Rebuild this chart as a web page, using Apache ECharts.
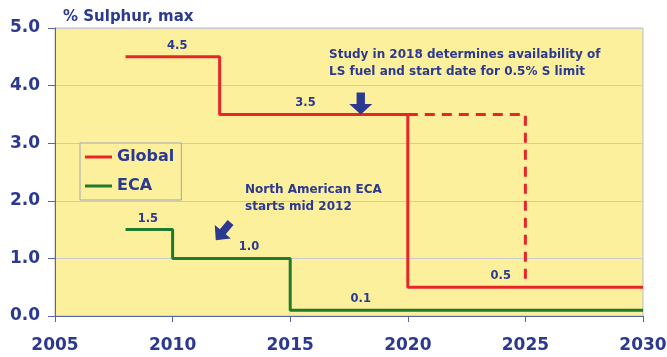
<!DOCTYPE html>
<html>
<head>
<meta charset="utf-8">
<script src="https://cdn.jsdelivr.net/npm/echarts@6/dist/echarts.min.js"></script>
<style>
html, body { margin: 0; padding: 0; background: #fff; }
#main { width: 667px; height: 357px; }
</style>
</head>
<body>
<div id="main"></div>
<script>
// data
var xTicks = [2005, 2010, 2015, 2020, 2025, 2030];
var globalSteps = [[2008, 4.5], [2012, 4.5], [2012, 3.5], [2020, 3.5], [2020, 0.5], [2030, 0.5]];
var globalStudy = [[2020, 3.5], [2025, 3.5], [2025, 0.58]];
var ecaSteps = [[2008, 1.5], [2010, 1.5], [2010, 1.0], [2015, 1.0], [2015, 0.1], [2030, 0.1]];
var globalLabels = [[2010.2, 4.5, '4.5'], [2015.65, 3.5, '3.5'], [2023.95, 0.5, '0.5']];
var ecaLabels = [[2008.95, 1.5, '1.5'], [2013.25, 1.0, '1.0'], [2018, 0.1, '0.1']];

var navy = '#2b3990';
var red = '#e8262a';
var green = '#1d7a2e';
var font = 'DejaVu Sans, Verdana, sans-serif';

var downArrow = 'path://M7,0 L15,0 L15,11 L22,11 L11,21 L0,11 L7,11 Z';

function valueMarks(list) {
    var out = [];
    for (var i = 0; i < list.length; i++) {
        out.push({
            coord : [list[i][0], list[i][1]],
            value : list[i][2]
        });
    }
    return out;
}

var markLabel = {
    show : true,
    position : 'top',
    distance : 5,
    color : navy,
    fontFamily : font,
    fontWeight : 'bold',
    fontSize : 11.5,
    formatter : '{c}'
};

var myChart = echarts.init(document.getElementById('main'));
var option = {
    animation : false,
    textStyle : { fontFamily : font },
    grid : {
        left : 55,
        right : 24,
        top : 28,
        bottom : 41,
        outerBoundsMode : 'none',
        show : true,
        backgroundColor : '#fcf09c',
        borderColor : '#b8bccb',
        borderWidth : 1
    },
    title : {
        text : '% Sulphur, max',
        left : 58,
        top : 5,
        textStyle : { color : navy, fontSize : 15, fontWeight : 'bold', fontFamily : font }
    },
    legend : {
        data : ['Global', 'ECA'],
        orient : 'vertical',
        left : 80,
        top : 143,
        itemWidth : 27,
        itemHeight : 3,
        itemGap : 13,
        padding : [6, 7, 6, 5],
        backgroundColor : '#fcf09c',
        borderColor : '#9ea4bf',
        borderWidth : 1,
        icon : 'rect',
        textStyle : { color : navy, fontSize : 16, fontWeight : 'bold', fontFamily : font }
    },
    graphic : [{
        type : 'text',
        left : 329,
        top : 46,
        z : 10,
        style : {
            text : 'Study in 2018 determines availability of\nLS fuel and start date for 0.5% S limit',
            fill : navy,
            font : 'bold 12px ' + font,
            lineHeight : 17
        }
    }, {
        type : 'text',
        left : 245,
        top : 181,
        z : 10,
        style : {
            text : 'North American ECA\nstarts mid 2012',
            fill : navy,
            font : 'bold 12px ' + font,
            lineHeight : 17
        }
    }],
    xAxis : {
        type : 'value',
        min : 2005,
        max : 2030,
        interval : 5,
        axisLine : { lineStyle : { color : '#5565a8', width : 1 } },
        axisTick : { show : true, length : 6, lineStyle : { color : '#5565a8' } },
        splitLine : { show : false },
        axisLabel : {
            margin : 21,
            color : navy,
            fontSize : 17,
            fontWeight : 'bold',
            fontFamily : font,
            formatter : function(v) { return xTicks.indexOf(v) >= 0 ? String(v) : ''; }
        }
    },
    yAxis : {
        type : 'value',
        min : 0,
        max : 5,
        interval : 1,
        axisLine : { show : true, lineStyle : { color : '#5565a8', width : 1 } },
        axisTick : { show : true, length : 7, lineStyle : { color : '#5565a8' } },
        splitLine : { lineStyle : { color : '#c9c9cf', width : 1 } },
        axisLabel : {
            margin : 15,
            color : navy,
            fontSize : 17,
            fontWeight : 'bold',
            fontFamily : font,
            formatter : function(v) { return v.toFixed(1); }
        }
    },
    series : [{
        name : 'Global',
        type : 'line',
        data : globalSteps,
        showSymbol : false,
        symbol : 'none',
        color : red,
        lineStyle : { color : red, width : 3 },
        z : 3,
        markPoint : {
            symbol : 'circle',
            symbolSize : 0,
            label : markLabel,
            data : valueMarks(globalLabels)
        }
    }, {
        name : 'Global study',
        type : 'line',
        data : globalStudy,
        symbol : 'none',
        lineStyle : { color : red, width : 3, type : [10, 7] },
        z : 3,
        markPoint : {
            symbol : downArrow,
            symbolSize : [23, 22],
            symbolOffset : [0, -11],
            itemStyle : { color : navy },
            label : { show : false },
            data : [{ coord : [2018, 3.5] }]
        }
    }, {
        name : 'ECA',
        type : 'line',
        data : ecaSteps,
        symbol : 'none',
        color : green,
        lineStyle : { color : green, width : 3 },
        z : 3,
        markPoint : {
            symbol : 'circle',
            symbolSize : 0,
            label : markLabel,
            data : valueMarks(ecaLabels)
        }
    }, {
        name : 'ECA note',
        type : 'line',
        data : [],
        markPoint : {
            symbol : downArrow,
            symbolSize : [21, 23],
            symbolRotate : -40,
            itemStyle : { color : navy },
            label : { show : false },
            data : [{ coord : [2012.15, 1.47] }]
        }
    }]
};
myChart.setOption(option);
</script>
</body>
</html>
